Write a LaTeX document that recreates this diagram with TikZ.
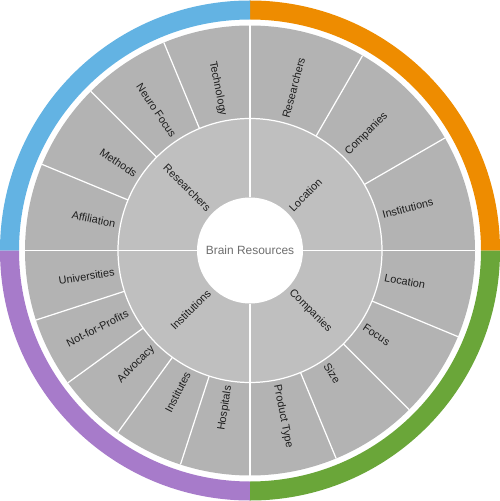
\documentclass[tikz,border=0pt]{standalone}
\usepackage{fontspec}
\setmainfont{Liberation Sans}
\definecolor{cblue}{HTML}{63B3E3}
\definecolor{corange}{HTML}{EE8C00}
\definecolor{cgreen}{HTML}{6AA639}
\definecolor{cpurple}{HTML}{A77BCA}
\definecolor{couter}{HTML}{B3B3B3}
\definecolor{cinner}{HTML}{BFBFBF}
\definecolor{ctext}{HTML}{1E1E1E}
\definecolor{chub}{HTML}{6E6E6E}
\tikzset{
  every picture/.style={font=\fontsize{6.2}{7.5}\selectfont},
  sep/.style={draw=white, line width=0.7pt},
  lab/.style={text=ctext, inner sep=0pt},
  hub/.style={text=chub, font=\fontsize{6.8}{8}\selectfont},
}
\begin{document}
\begin{tikzpicture}
  \useasboundingbox (-5,-5.01) rectangle (5,5.01);
  % colour band
  \foreach \a/\c in {0/corange, 90/cblue, 180/cpurple, 270/cgreen}
    \fill[\c] (\a:5) arc[start angle=\a, delta angle=90, radius=5] -- ({\a+90}:4.62) arc[start angle=\a+90, delta angle=-90, radius=4.62] -- cycle;
  % rings
  \fill[couter] (0,0) circle[radius=4.5];
  \fill[cinner] (0,0) circle[radius=2.64];
  \draw[sep] (0,0) circle[radius=2.64];
  \foreach \a in {0,90,180,270} \draw[sep] (\a:1.06) -- (\a:4.5);
  \foreach \a in {30,60,112.5,135,157.5,198,216,234,252,292.5,315,337.5} \draw[sep] (\a:2.64) -- (\a:4.5);
  \fill[white] (0,0) circle[radius=1.06];
  \node[hub] (hub) at (0,0) {Brain Resources};
  % inner labels
  \foreach \m/\t/\n in {45/Location/in-loc, 315/Companies/in-comp}
    \node[lab, anchor=west, rotate=\m] (\n) at (\m:1.15) {\t};
  \foreach \m/\t/\n in {135/Researchers/in-res, 225/Institutions/in-inst}
    \node[lab, anchor=east, rotate=\m-180] (\n) at (\m:1.15) {\t};
  % outer labels
  \foreach \m/\t/\n in {15/Institutions/out-inst, 45/Companies/out-comp, 75/Researchers/out-res,
      281.25/Product Type/out-type, 303.75/Size/out-size, 326.25/Focus/out-focus, 348.75/Location/out-loc}
    \node[lab, anchor=west, rotate=\m] (\n) at (\m:2.74) {\t};
  \foreach \m/\t/\n in {101.25/Technology/out-tech, 123.75/Neuro Focus/out-neuro, 146.25/Methods/out-meth,
      168.75/Affiliation/out-aff, 189/Universities/out-uni, 207/Not-for-Profits/out-nfp,
      225/Advocacy/out-adv, 243/Institutes/out-inst2, 261/Hospitals/out-hosp}
    \node[lab, anchor=east, rotate=\m-180] (\n) at (\m:2.74) {\t};
\end{tikzpicture}
\end{document}
